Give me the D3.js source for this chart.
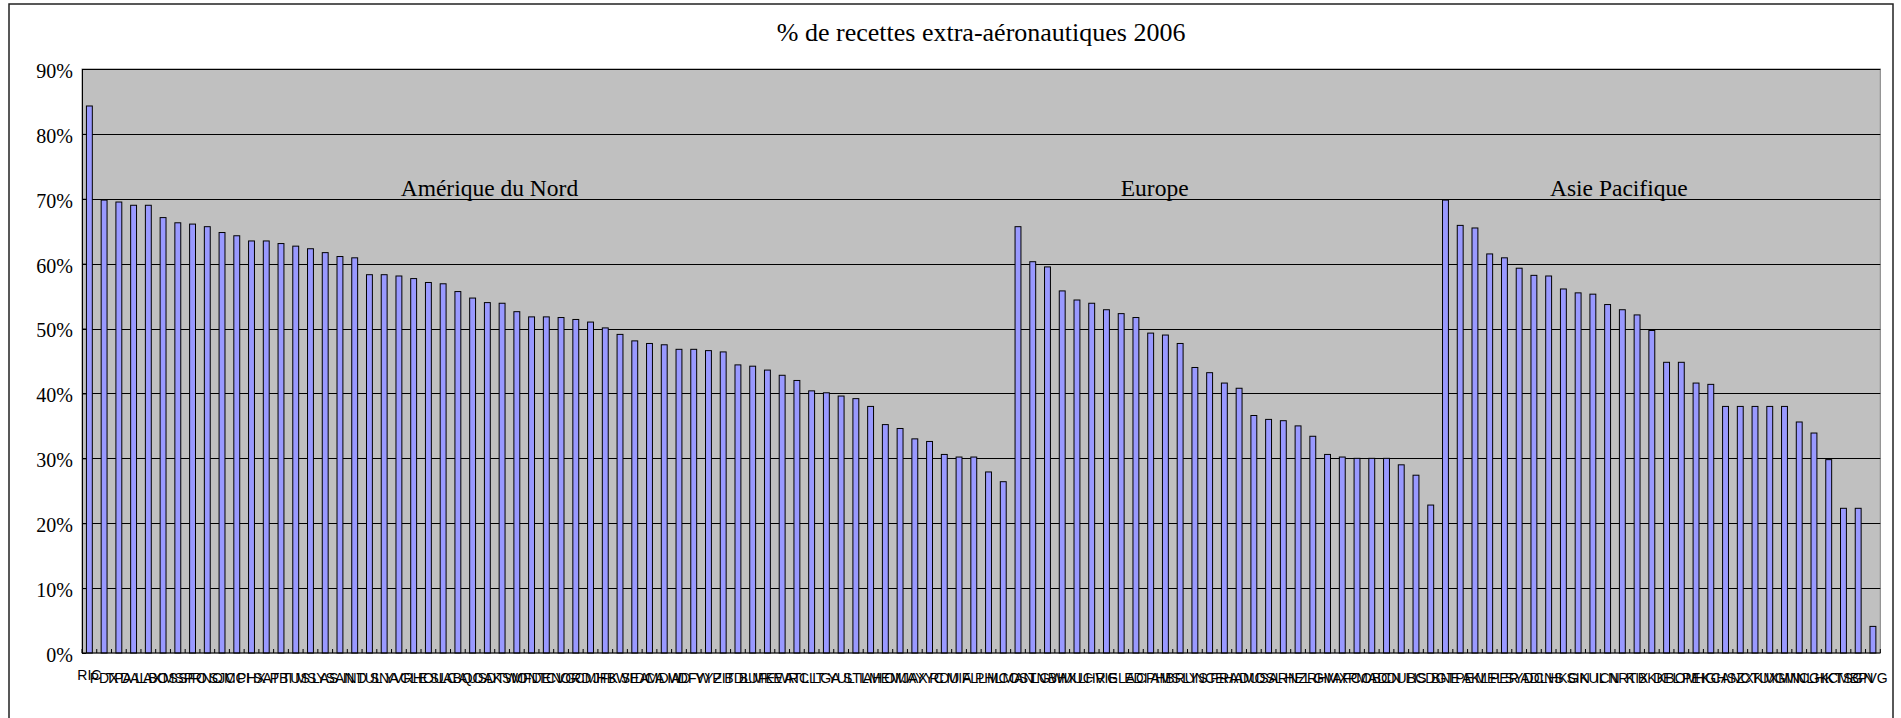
<!DOCTYPE html>
<html>
<head>
<meta charset="utf-8">
<script src="https://cdn.jsdelivr.net/npm/d3@7"></script>
<style>
  html, body { margin: 0; padding: 0; background: #fff; }
  svg { display: block; }
</style>
</head>
<body>
<svg id="chart" width="1901" height="718"></svg>
<script>
// airport codes per region (labels are unreadable in the source, overlapping)
const naCodes = ["RIC","PDX","TPA","DAL","LAX","BOS","MSP","SFO","RNO","SJC","MCI","PHX","SAT","PBI","TUS","MSY",
  "LAS","SAN","IND","TUL","SNA","YVR","CLE","HOU","SLC","ABQ","AUS","OAK","DTW","SMF","ONT","DEN","CVG","ORD",
  "CMH","JFK","BWI","SEA","DCA","MDW","IAD","DFW","YYZ","PIT","BDL","BUF","MKE","EWR","ATL","CLT","LGA","YUL",
  "STL","IAH","MEM","OMA","JAX","YYC","RDU","MIA","FLL","PHL","MCO"];
const euCodes = ["MAN","STN","LGW","BHX","MUC","LHR","VIE","GLA","EDI","CPH","AMS","BRU","LYS","NCE","FRA",
  "HAM","DUS","OSL","ARN","HEL","ZRH","GVA","MXP","FCO","MAD","BCN","DUB","LIS","CDG"];
const apCodes = ["BNE","TPE","AKL","MEL","PER","SYD","ADL","CNS","HKG","SIN","KUL","ICN","NRT","KIX","BKK",
  "DEL","BOM","PEK","HGH","CAN","SZX","CTU","KMG","XMN","MNL","CGK","HKT","CMB","SGN","PVG"];

// % de recettes extra-aéronautiques
const naValues = [84.3,69.8,69.5,69.0,69.0,67.1,66.3,66.1,65.7,64.8,64.3,63.5,63.5,63.1,62.7,62.3,
  61.7,61.1,60.9,58.3,58.3,58.1,57.7,57.1,56.9,55.7,54.7,54.0,53.9,52.6,51.8,51.8,51.7,51.4,
  51.0,50.1,49.1,48.1,47.7,47.5,46.8,46.8,46.6,46.4,44.4,44.2,43.6,42.8,42.0,40.4,40.1,39.6,
  39.2,38.0,35.2,34.6,33.0,32.6,30.6,30.2,30.2,27.9,26.4];
const euValues = [65.7,60.3,59.5,55.8,54.4,53.9,52.9,52.3,51.7,49.3,49.0,47.7,44.0,43.2,41.6,
  40.8,36.6,36.0,35.8,35.0,33.4,30.6,30.2,30.0,30.0,30.0,29.0,27.4,22.8];
const apValues = [69.8,65.9,65.5,61.5,60.9,59.3,58.2,58.1,56.1,55.5,55.3,53.7,52.9,52.1,49.7,
  44.8,44.8,41.6,41.4,38.0,38.0,38.0,38.0,38.0,35.6,33.9,29.8,22.3,22.3,4.1];

const regionNames = ["Amérique du Nord", "Europe", "Asie Pacifique"];
const yTicks = [0, 10, 20, 30, 40, 50, 60, 70, 80, 90];
const chartTitle = "% de recettes extra-aéronautiques 2006";

const codes = naCodes.concat(euCodes, apCodes);
const values = naValues.concat(euValues, apValues);

// where the region text boxes sit (fractional category index)
const regionLabelAt = [27.14, 72.27, 103.76];

const svg = d3.select("#chart");
const plot = { left: 82, top: 69, right: 1880.3, bottom: 653 };
const serif = "'Liberation Serif', 'Times New Roman', serif";
const sans = "'Liberation Sans', Arial, sans-serif";

const x = d3.scaleBand()
  .domain(codes)
  .range([plot.left, plot.right])
  .paddingInner(0.6)
  .paddingOuter(0.3);

const y = d3.scaleLinear().domain([0, 90]).range([plot.bottom, plot.top]);

// outer frame
svg.append("rect")
  .attr("x", 9).attr("y", 4)
  .attr("width", 1884).attr("height", 730)
  .attr("fill", "none").attr("stroke", "#222").attr("stroke-width", 1.5);

// title
svg.append("text")
  .attr("x", (plot.left + plot.right) / 2)
  .attr("y", 41)
  .attr("text-anchor", "middle")
  .style("font-family", serif)
  .style("font-size", "26px")
  .text(chartTitle);

// plot area
svg.append("rect")
  .attr("x", plot.left).attr("y", plot.top)
  .attr("width", plot.right - plot.left).attr("height", plot.bottom - plot.top)
  .attr("fill", "#c0c0c0").attr("stroke", "#808080").attr("stroke-width", 1);

// gridlines
svg.append("g")
  .selectAll("line")
  .data(yTicks.filter(d => d > 0))
  .join("line")
  .attr("x1", plot.left).attr("x2", plot.right)
  .attr("y1", d => Math.round(y(d)) + 0.5).attr("y2", d => Math.round(y(d)) + 0.5)
  .attr("stroke", "#000").attr("stroke-width", 1);

// bars
svg.append("g")
  .selectAll("rect")
  .data(values)
  .join("rect")
  .attr("x", (d, i) => x(codes[i]))
  .attr("y", d => y(d))
  .attr("width", x.bandwidth())
  .attr("height", d => y(0) - y(d))
  .attr("fill", "#9999ff")
  .attr("stroke", "#000")
  .attr("stroke-width", 1);

// y axis
const yAxis = svg.append("g")
  .attr("transform", `translate(${plot.left},0)`)
  .call(d3.axisLeft(y).tickValues(yTicks).tickFormat(d => d + "%").tickSizeInner(-4).tickSizeOuter(0).tickPadding(9));
yAxis.select(".domain").attr("stroke", "#000");
yAxis.selectAll(".tick line").attr("stroke", "#000");
yAxis.selectAll(".tick text")
  .attr("dy", "0.42em")
  .style("font-family", serif)
  .style("font-size", "20px")
  .attr("fill", "#000");

// x axis line + inward ticks at category boundaries
svg.append("line")
  .attr("x1", plot.left).attr("x2", plot.right)
  .attr("y1", plot.bottom).attr("y2", plot.bottom)
  .attr("stroke", "#000").attr("stroke-width", 1.2);

const step = x.step();
const first = x(codes[0]) - step * x.paddingOuter();
svg.append("g")
  .selectAll("line")
  .data(d3.range(codes.length + 1))
  .join("line")
  .attr("x1", i => first + i * step).attr("x2", i => first + i * step)
  .attr("y1", plot.bottom).attr("y2", plot.bottom - 4)
  .attr("stroke", "#000");

// category labels (they overlap, as in the original)
svg.append("g")
  .selectAll("text")
  .data(codes)
  .join("text")
  .attr("x", d => x(d) + x.bandwidth() / 2)
  .attr("y", (d, i) => i === 0 ? 680 : 683)
  .attr("text-anchor", "middle")
  .style("font-family", sans)
  .style("font-size", "14px")
  .text(d => d);

// region labels
svg.append("g")
  .selectAll("text")
  .data(regionNames)
  .join("text")
  .attr("x", (d, i) => first + (regionLabelAt[i] + 0.5) * step)
  .attr("y", y(70) - 2.5)
  .attr("text-anchor", "middle")
  .style("font-family", serif)
  .style("font-size", "23.5px")
  .text(d => d);
</script>
</body>
</html>
